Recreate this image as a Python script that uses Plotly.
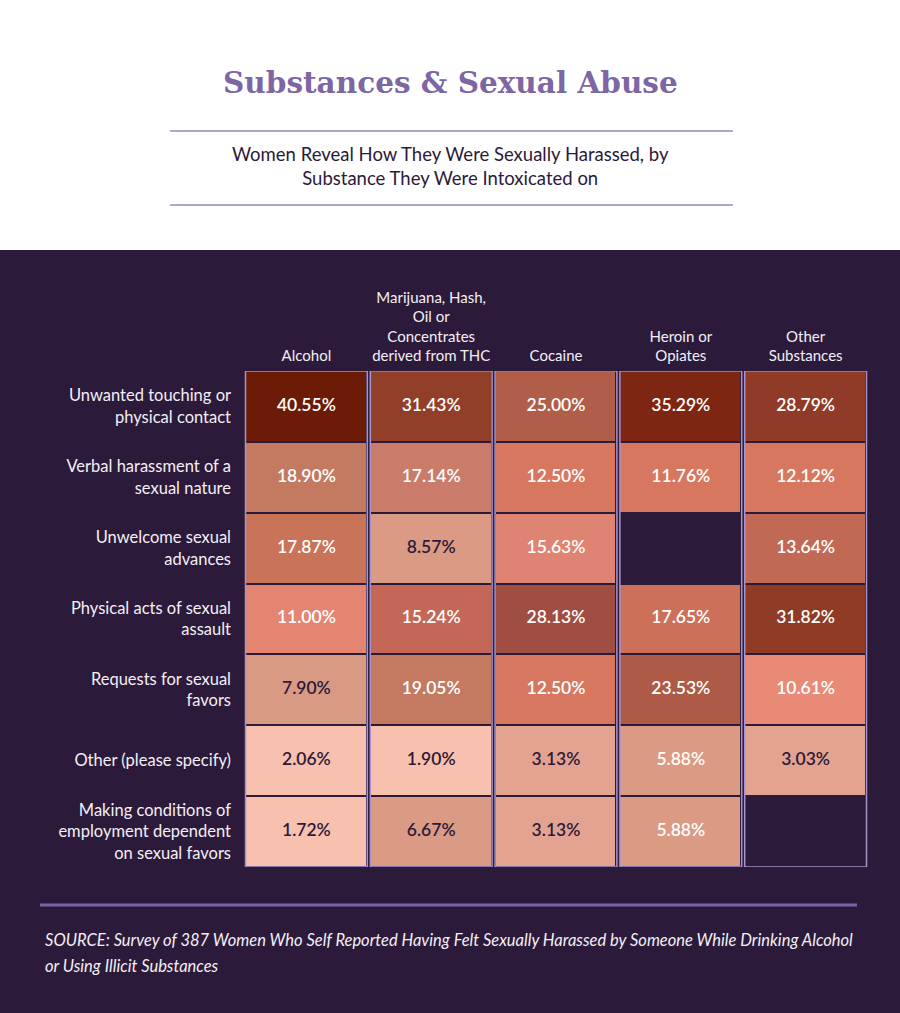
import plotly.graph_objects as go

# categories
substances = ["Alcohol", "Marijuana, Hash,<br>Oil or<br>Concentrates<br>derived from THC",
              "Cocaine", "Heroin or<br>Opiates", "Other<br>Substances"]
harassment = ["Unwanted touching or<br>physical contact",
              "Verbal harassment of a<br>sexual nature",
              "Unwelcome sexual<br>advances",
              "Physical acts of sexual<br>assault",
              "Requests for sexual<br>favors",
              "Other (please specify)",
              "Making conditions of<br>employment dependent<br>on sexual favors"]

# percent of women, one list per substance (row order as above)
alcohol = [40.55, 18.90, 17.87, 11.00, 7.90, 2.06, 1.72]
marijuana = [31.43, 17.14, 8.57, 15.24, 19.05, 1.90, 6.67]
cocaine = [25.00, 12.50, 15.63, 28.13, 12.50, 3.13, 3.13]
heroin = [35.29, 11.76, None, 17.65, 23.53, 5.88, 5.88]
other = [28.79, 12.12, 13.64, 31.82, 10.61, 3.03, None]

# cell fill colours as used in the original (same layout as the data)
cell_colors = [
    ["#6b1b06", "#923f29", "#b05e4a", "#7e2612", "#8f3b27"],
    ["#c47a60", "#cb7b6a", "#d7775f", "#d7775f", "#d7775f"],
    ["#c97359", "#db9a84", "#df8372", None, "#c26955"],
    ["#e48572", "#c46756", "#a04e43", "#cc7059", "#8f3b25"],
    ["#d99a84", "#c47a60", "#d7775f", "#ad5a46", "#e88a76"],
    ["#f8c0ae", "#f8c0ae", "#e4a391", "#da9a84", "#e4a391"],
    ["#f8c0ae", "#da9a84", "#e4a391", "#da9a84", None],
]
dark_text = [
    [0, 0, 0, 0, 0],
    [0, 0, 0, 0, 0],
    [0, 1, 0, 0, 0],
    [0, 0, 0, 0, 0],
    [1, 0, 0, 0, 0],
    [1, 1, 1, 0, 1],
    [1, 1, 1, 0, 0],
]

DARK = "#2c1a3a"
LAVENDER = "#a794cb"
TITLE_PURPLE = "#7d66a3"
LIGHT_TEXT = "#f3eff6"
W, H = 900, 1013


def py(px):
    return 1 - px / H


columns = [alcohol, marijuana, cocaine, heroin, other]
z = [[columns[c][r] for c in range(len(columns))] for r in range(len(harassment))]

# colour scale that hits every cell colour exactly at its value
pairs = {}
for r in range(len(z)):
    for c in range(len(z[r])):
        if z[r][c] is not None:
            pairs[z[r][c]] = cell_colors[r][c]
vals = sorted(pairs)
zmin, zmax = vals[0], vals[-1]
colorscale = [[(v - zmin) / (zmax - zmin), pairs[v]] for v in vals]

fig = go.Figure()
fig.add_trace(go.Heatmap(
    z=z, x=list(range(5)), y=list(range(7)),
    zmin=zmin, zmax=zmax, colorscale=colorscale, showscale=False,
    xgap=5, ygap=2, hoverinfo="skip"
))

tx, ty, tt, tc = [], [], [], []
for r in range(len(z)):
    for c in range(len(z[r])):
        if z[r][c] is not None:
            tx.append(c)
            ty.append(r)
            tt.append(f"{z[r][c]:.2f}%")
            tc.append(DARK if dark_text[r][c] else "#ffffff")
fig.add_trace(go.Scatter(
    x=tx, y=ty, text=tt, mode="text", hoverinfo="skip",
    textfont=dict(family="Lato", size=17.5, color=tc, weight=600)
))

shapes = [dict(type="rect", xref="paper", yref="paper", x0=0, x1=1, y0=0, y1=py(250),
               fillcolor=DARK, line_width=0, layer="below")]
d = 0.012
for c in range(5):
    shapes.append(dict(type="rect", xref="x", yref="y", x0=c - 0.5 + d, x1=c + 0.5 - d,
                       y0=-0.5, y1=6.5, line=dict(color=LAVENDER, width=1.5)))
for yy in (131, 205):
    shapes.append(dict(type="line", xref="paper", yref="paper", x0=170 / W, x1=733 / W,
                       y0=py(yy), y1=py(yy), line=dict(color="#9b86c2", width=1.5)))
shapes.append(dict(type="line", xref="paper", yref="paper", x0=40 / W, x1=857 / W,
                   y0=py(905), y1=py(905), line=dict(color="#7a63a5", width=3)))

annotations = [
    dict(text="Substances & Sexual Abuse", x=0.5, y=py(82), xref="paper", yref="paper",
         yanchor="middle", showarrow=False,
         font=dict(family="DejaVu Serif", size=29.5, color=TITLE_PURPLE, weight="bold")),
    dict(text="Women Reveal How They Were Sexually Harassed, by<br>Substance They Were Intoxicated on",
         x=0.5, y=py(166), xref="paper", yref="paper", yanchor="middle", showarrow=False,
         font=dict(family="Lato", size=18.5, color=DARK)),
    dict(text="<i>SOURCE: Survey of 387 Women Who Self Reported Having Felt Sexually Harassed by Someone While Drinking Alcohol</i>",
         x=43 / W, y=py(940), xref="paper", yref="paper", xanchor="left", yanchor="middle",
         showarrow=False, font=dict(family="Lato", size=16.5, color=LIGHT_TEXT)),
    dict(text="<i>or Using Illicit Substances</i>",
         x=43 / W, y=py(966), xref="paper", yref="paper", xanchor="left", yanchor="middle",
         showarrow=False, font=dict(family="Lato", size=16.5, color=LIGHT_TEXT)),
]

fig.update_layout(
    width=W, height=H, margin=dict(l=0, r=0, t=0, b=0),
    paper_bgcolor="white", plot_bgcolor="rgba(0,0,0,0)",
    showlegend=False, shapes=shapes, annotations=annotations,
    xaxis=dict(domain=[244 / W, 868 / W], range=[-0.5, 4.5], side="top",
               tickvals=list(range(5)), ticktext=substances, showgrid=False, zeroline=False,
               ticks="", ticklabelstandoff=6, fixedrange=True,
               tickfont=dict(family="Lato", size=15, color=LIGHT_TEXT)),
    yaxis=dict(domain=[py(867), py(371)], range=[6.5, -0.5],
               tickvals=list(range(7)), ticktext=harassment, showgrid=False, zeroline=False,
               ticks="", ticklabelstandoff=12, fixedrange=True,
               tickfont=dict(family="Lato", size=16.5, color=LIGHT_TEXT)),
)

# drop the page's default body margin so the figure sits flush in the window
fig.write_html("out.html", config={"displayModeBar": False},
               post_script="document.body.style.margin='0';")
